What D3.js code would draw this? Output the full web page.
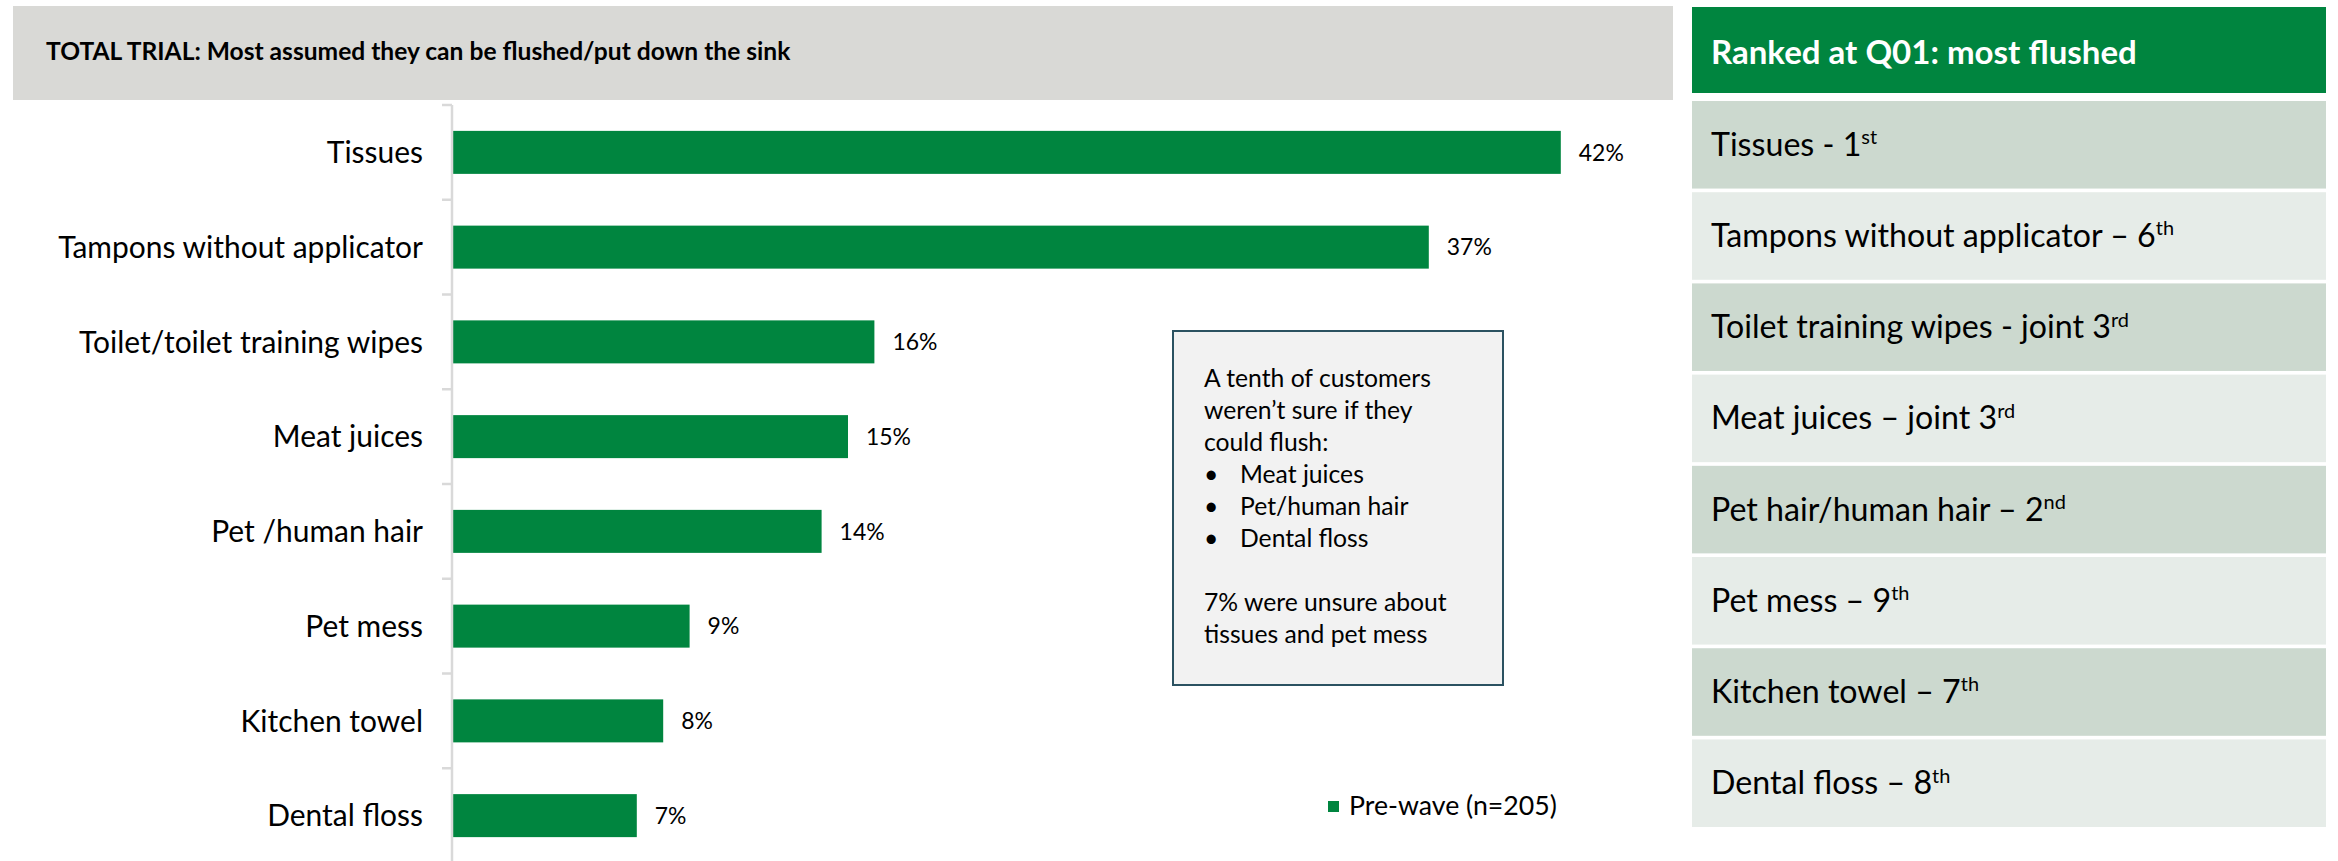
<!DOCTYPE html>
<html>
<head>
<meta charset="utf-8">
<script src="https://cdn.jsdelivr.net/npm/d3@7"></script>
<style>
  html, body { margin: 0; padding: 0; background: #fff; }
  svg { display: block; font-family: Lato, "Open Sans", sans-serif; }
</style>
</head>
<body>
<svg id="chart" width="2338" height="861"></svg>
<script>
// ---------- data ----------
const categories = ["Tissues", "Tampons without applicator", "Toilet/toilet training wipes", "Meat juices",
                    "Pet /human hair", "Pet mess", "Kitchen towel", "Dental floss"];
const values = [42, 37, 16, 15, 14, 9, 8, 7];
const seriesName = "Pre-wave (n=205)";
const chartTitle = "TOTAL TRIAL: Most assumed they can be flushed/put down the sink";
const rankTitle = "Ranked at Q01: most flushed";
const rankItems = ["Tissues - 1", "Tampons without applicator \u2013 6", "Toilet training wipes - joint 3",
                   "Meat juices \u2013 joint 3", "Pet hair/human hair \u2013 2", "Pet mess \u2013 9",
                   "Kitchen towel \u2013 7", "Dental floss \u2013 8"];
const rankSuffix = ["st", "th", "rd", "rd", "nd", "th", "th", "th"];
const noteLines = [
  {t: "A tenth of customers", b: false},
  {t: "weren\u2019t sure if they", b: false},
  {t: "could flush:", b: false},
  {t: "Meat juices", b: true},
  {t: "Pet/human hair", b: true},
  {t: "Dental floss", b: true},
  {t: "", b: false},
  {t: "7% were unsure about", b: false},
  {t: "tissues and pet mess", b: false}
];

// ---------- style ----------
const GREEN = "#00853F";
const svg = d3.select("#chart");

function fitSize(text, weight, target) {
  const t = svg.append("text").attr("font-size", 100).attr("font-weight", weight).text(text);
  const w = t.node().getComputedTextLength();
  t.remove();
  return 100 * target / w;
}

// ---------- title bar ----------
svg.append("rect").attr("x", 13).attr("y", 6).attr("width", 1660).attr("height", 94).attr("fill", "#D9D9D6");
const titleSize = fitSize(chartTitle, 700, 745);
svg.append("text").attr("x", 46).attr("y", 60).attr("font-size", titleSize).attr("font-weight", 700)
  .attr("fill", "#000").text(chartTitle);

// ---------- bar chart ----------
const y = d3.scaleBand().domain(categories).range([105, 105 + 8 * 94.75]).padding(0);
const x = d3.scaleLinear().domain([0, 50]).range([452, 452 + 50 * 26.4]);
const barH = 43;

svg.append("g").selectAll("rect").data(categories).join("rect")
  .attr("x", x(0))
  .attr("y", d => y(d) + (y.bandwidth() - barH) / 2)
  .attr("width", (d, i) => x(values[i]) - x(0))
  .attr("height", barH)
  .attr("fill", GREEN);

// axis with ticks at band boundaries
const axisG = svg.append("g").attr("transform", `translate(${x(0)},0)`);
axisG.append("line").attr("x1", 0).attr("x2", 0).attr("y1", y.range()[0]).attr("y2", y.range()[1])
  .attr("stroke", "#D9D9D9").attr("stroke-width", 2.5);
const bounds = categories.map(c => y(c)).concat([y.range()[1]]);
axisG.selectAll("line.tick").data(bounds).join("line").attr("class", "tick")
  .attr("x1", -10).attr("x2", 0).attr("y1", d => d).attr("y2", d => d)
  .attr("stroke", "#D9D9D9").attr("stroke-width", 2.5);

// category labels
const catSize = fitSize("Tampons without applicator", 400, 365);
svg.append("g").selectAll("text").data(categories).join("text")
  .attr("x", 423).attr("y", d => y(d) + y.bandwidth() / 2 + catSize * 0.36)
  .attr("text-anchor", "end").attr("font-size", catSize).attr("fill", "#000")
  .text(d => d);

// value labels
const valSize = fitSize("42%", 400, 45);
svg.append("g").selectAll("text").data(categories).join("text")
  .attr("x", (d, i) => x(values[i]) + 18)
  .attr("y", d => y(d) + y.bandwidth() / 2 + valSize * 0.36)
  .attr("font-size", valSize).attr("fill", "#000")
  .text((d, i) => values[i] + "%");

// legend
const legSize = fitSize(seriesName, 400, 208);
svg.append("rect").attr("x", 1328).attr("y", 801).attr("width", 11).attr("height", 11).attr("fill", GREEN);
svg.append("text").attr("x", 1349).attr("y", 815).attr("font-size", legSize).attr("fill", "#000").text(seriesName);

// ---------- annotation box ----------
svg.append("rect").attr("x", 1173).attr("y", 331).attr("width", 330).attr("height", 354)
  .attr("fill", "#F2F2F2").attr("stroke", "#2B5261").attr("stroke-width", 2);
const noteSize = fitSize(noteLines[0].t, 400, 227);
const noteG = svg.append("g").attr("font-size", noteSize).attr("fill", "#000");
noteLines.forEach((l, i) => {
  const yy = 387 + i * 32.05;
  if (l.b) {
    noteG.append("text").attr("x", 1204).attr("y", yy).text("\u2022");
    noteG.append("text").attr("x", 1240).attr("y", yy).text(l.t);
  } else if (l.t) {
    noteG.append("text").attr("x", 1204).attr("y", yy).text(l.t);
  }
});

// ---------- ranking panel ----------
svg.append("rect").attr("x", 1692).attr("y", 7).attr("width", 634).attr("height", 86).attr("fill", GREEN);
const rankTitleSize = fitSize(rankTitle, 700, 426);
svg.append("text").attr("x", 1711).attr("y", 64).attr("font-size", rankTitleSize).attr("font-weight", 700)
  .attr("fill", "#fff").text(rankTitle);

const ry = d3.scaleBand().domain(d3.range(rankItems.length)).range([101, 827]).paddingInner(0.04).paddingOuter(0);
const rankSize = fitSize(rankItems[1], 400, 445);
const rows = svg.append("g").selectAll("g").data(rankItems).join("g");
rows.append("rect").attr("x", 1692).attr("y", (d, i) => ry(i)).attr("width", 634).attr("height", ry.bandwidth())
  .attr("fill", (d, i) => i % 2 === 0 ? "#CCD9CF" : "#E6ECE8");
const rt = rows.append("text").attr("x", 1711).attr("y", (d, i) => ry(i) + ry.bandwidth() / 2 + 11)
  .attr("font-size", rankSize).attr("fill", "#000");
rt.append("tspan").text(d => d);
rt.append("tspan").attr("font-size", rankSize * 0.62).attr("dy", -rankSize * 0.36)
  .text((d, i) => rankSuffix[i]);
</script>
</body>
</html>
